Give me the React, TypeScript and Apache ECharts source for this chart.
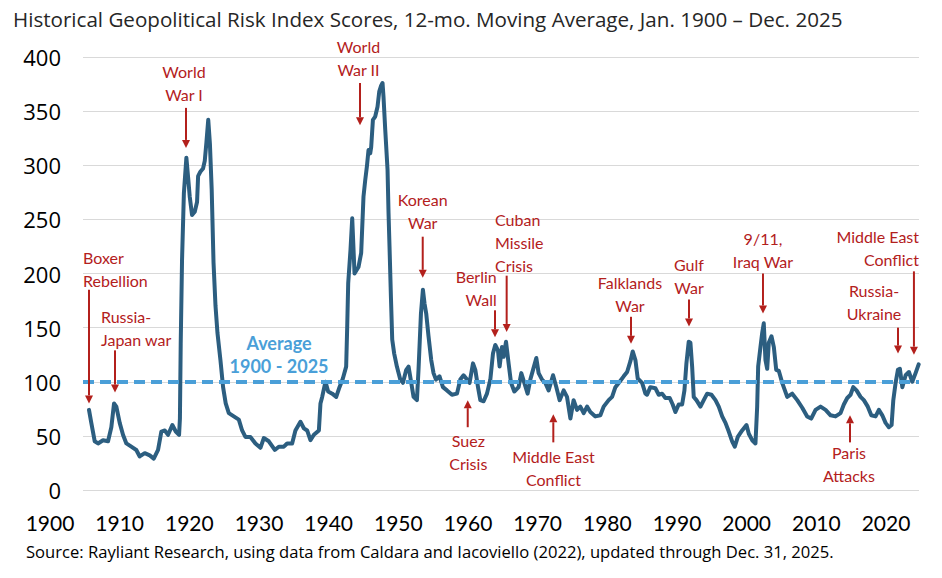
import React, { useEffect, useRef } from "react";
import * as echarts from "echarts";

const titleText =
  "Historical Geopolitical Risk Index Scores, 12-mo. Moving Average, Jan. 1900 \u2013 Dec. 2025";
const sourceText =
  "Source: Rayliant Research, using data from Caldara and Iacoviello (2022), updated through Dec. 31, 2025.";

const xTickLabels = ["1900", "1910", "1920", "1930", "1940", "1950", "1960", "1970", "1980", "1990", "2000", "2010", "2020"];
const yTicks = { min: 0, max: 400, interval: 50 };

const AVERAGE = 100;
const averageLabel = ["Average", "1900 - 2025"];
const averageLabelAt = [1928.84, 125.4];

const years = [
  1900.0, 1900.35, 1900.87, 1901.37, 1902.13, 1902.89, 1903.39, 1903.8, 1904.15, 1904.66,
  1905.16, 1905.67, 1906.42, 1907.18, 1907.7, 1908.46, 1909.22, 1909.83, 1910.48, 1910.98,
  1911.5, 1912.0, 1912.65, 1913.17, 1913.67, 1913.8, 1913.92, 1914.12, 1914.4, 1914.78,
  1915.04, 1915.29, 1915.64, 1916.05, 1916.4, 1916.56, 1916.9, 1917.31, 1917.57, 1917.82,
  1918.1, 1918.35, 1918.62, 1918.9, 1919.2, 1919.5, 1919.95, 1920.35, 1920.75, 1921.22,
  1921.98, 1922.74, 1923.24, 1923.74, 1924.5, 1925.26, 1926.02, 1926.53, 1927.29, 1928.2,
  1928.81, 1929.57, 1930.07, 1930.83, 1931.33, 1932.09, 1932.61, 1933.11, 1933.61, 1934.13,
  1934.89, 1935.13, 1935.39, 1935.89, 1936.3, 1936.91, 1937.52, 1938.02, 1938.53, 1939.03,
  1939.19, 1939.34, 1939.69, 1939.95, 1940.3, 1940.9, 1941.31, 1941.66, 1941.92, 1942.18,
  1942.42, 1942.68, 1942.83, 1943.09, 1943.44, 1943.79, 1944.05, 1944.3, 1944.55, 1944.7,
  1944.96, 1945.31, 1945.46, 1945.61, 1945.82, 1946.02, 1946.32, 1946.73, 1947.24, 1947.65,
  1948.15, 1948.5, 1948.91, 1949.26, 1949.77, 1950.01, 1950.38, 1950.68, 1950.93, 1951.18,
  1951.53, 1951.94, 1952.29, 1952.66, 1953.2, 1953.72, 1954.33, 1955.09, 1955.85, 1956.35,
  1956.85, 1957.37, 1957.76, 1958.28, 1958.63, 1959.04, 1959.39, 1959.89, 1960.4, 1960.91,
  1961.31, 1961.66, 1962.07, 1962.32, 1962.68, 1962.92, 1963.29, 1963.68, 1964.05, 1964.55,
  1965.2, 1965.61, 1966.07, 1966.57, 1966.98, 1967.39, 1967.89, 1968.24, 1968.76, 1969.26,
  1969.76, 1970.43, 1970.93, 1971.43, 1972.04, 1972.55, 1973.06, 1973.55, 1974.07, 1974.57,
  1975.08, 1975.59, 1976.09, 1976.85, 1977.61, 1978.11, 1978.87, 1979.39, 1979.89, 1980.54,
  1981.15, 1981.67, 1982.17, 1982.52, 1982.93, 1983.28, 1983.95, 1984.45, 1984.7, 1985.2,
  1985.96, 1986.47, 1986.98, 1987.48, 1988.14, 1988.59, 1989.0, 1989.5, 1990.02, 1990.37,
  1990.67, 1991.02, 1991.28, 1991.54, 1991.78, 1992.19, 1992.8, 1993.3, 1993.82, 1994.47,
  1995.08, 1995.58, 1996.1, 1996.6, 1997.1, 1997.61, 1998.01, 1998.47, 1999.13, 1999.79,
  2000.14, 2000.65, 2001.15, 2001.41, 2001.56, 2001.91, 2002.17, 2002.41, 2002.67, 2002.93,
  2003.17, 2003.58, 2003.94, 2004.3, 2004.7, 2005.21, 2005.97, 2006.73, 2007.49, 2008.25,
  2009.0, 2009.61, 2010.27, 2011.03, 2011.79, 2012.55, 2013.3, 2014.06, 2014.56, 2015.08,
  2015.58, 2015.99, 2016.49, 2017.1, 2017.6, 2018.2, 2018.73, 2019.38, 2019.88, 2020.4,
  2020.9, 2021.4, 2021.81, 2022.07, 2022.42, 2022.77, 2023.07, 2023.44, 2023.94, 2024.44,
  2024.95, 2025.45, 2025.92,
];

const gprValues = [
  74, 62, 45, 43, 46, 45, 58, 80, 77, 62,
  51, 43, 40, 37, 31, 34, 32, 29, 37, 54,
  55, 51, 60, 54, 51, 66, 135, 212, 274, 307,
  289, 271, 254, 257, 266, 290, 294, 297, 304, 321,
  342, 320, 278, 210, 170, 145, 120, 95, 80, 71,
  68, 65, 55, 49, 49, 43, 39, 48, 45, 37,
  40, 40, 43, 43, 55, 63, 57, 55, 46, 51,
  55, 80, 86, 100, 91, 89, 86, 95, 103, 114,
  151, 191, 222, 251, 200, 206, 219, 271, 286, 299,
  314, 311, 317, 342, 345, 354, 368, 373, 376, 363,
  333, 296, 256, 225, 179, 139, 126, 114, 102, 99,
  111, 114, 99, 86, 83, 111, 163, 185, 172, 163,
  142, 120, 108, 102, 105, 95, 92, 88, 89, 102,
  106, 102, 99, 117, 111, 95, 83, 82, 89, 102,
  126, 134, 129, 114, 132, 123, 137, 117, 99, 91,
  95, 108, 99, 89, 102, 111, 122, 108, 102, 99,
  92, 106, 95, 83, 92, 86, 66, 83, 74, 77,
  71, 77, 72, 68, 69, 77, 83, 86, 95, 100,
  105, 109, 119, 128, 120, 103, 99, 89, 88, 95,
  94, 88, 89, 85, 85, 79, 72, 79, 79, 92,
  117, 137, 136, 114, 86, 83, 77, 83, 89, 88,
  83, 77, 68, 62, 54, 45, 40, 49, 55, 60,
  52, 46, 43, 77, 114, 132, 145, 154, 120, 112,
  136, 142, 132, 111, 110, 99, 86, 89, 83, 76,
  68, 66, 74, 77, 74, 69, 68, 71, 79, 85,
  88, 95, 92, 86, 83, 77, 69, 68, 74, 69,
  62, 58, 60, 83, 99, 111, 112, 95, 106, 109,
  100, 108, 116,
];

// Annotations: arrow at year `x` from value `from` to value `to`; text block centred at (tx, ty)
const annotationLabels = [
  ["Boxer", "Rebellion"],
  ["Russia-", "Japan war"],
  ["World", "War I"],
  ["World", "War II"],
  ["Korean", "War"],
  ["Cuban", "Missile", "Crisis"],
  ["Berlin", "Wall"],
  ["Suez", "Crisis"],
  ["Middle East", "Conflict"],
  ["Falklands", "War"],
  ["Gulf", "War"],
  ["9/11,", "Iraq War"],
  ["Middle East", "Conflict"],
  ["Russia-", "Ukraine"],
  ["Paris", "Attacks"],
];
const annotationArrowYear = [1900.0, 1903.95, 1914.72, 1941.13, 1950.65, 1963.39, 1961.62, 1957.48, 1970.47, 1982.26, 1991.06, 2002.29, 2025.2, 2022.78, 2015.5];
const annotationArrowFrom = [185, 129, 353, 376, 234, 198, 166, 58, 44, 160, 176, 200, 202, 150, 44];
const annotationArrowTo = [80, 90, 316, 337, 196, 146, 141, 83, 70, 135, 151, 163, 125, 126, 69];
const annotationTextYear = [1899.09, 1901.82, 1914.42, 1940.9, 1950.65, 1961.62, 1961.88, 1957.57, 1970.5, 1982.1, 1991.06, 2002.29, 2025.97, 2019.14, 2015.34];
const annotationTextValue = [204, 150, 376, 399, 258, 229, 187, 35, 20, 181, 198, 222, 224, 174, 24];
const annotationAlign = ["left", "left", "center", "center", "center", "left", "right", "center", "center", "center", "center", "center", "right", "center", "center"];

const X_MIN = 1899.09;
const X_MAX = 2025.97;

const LINE_COLOR = "#2C5E80";
const AVG_COLOR = "#4A9FD8";
const RED = "#B3201C";
const FONT = "Lato, 'Noto Sans', sans-serif";
const WIDE = "'Open Sans', Lato, sans-serif";

export default function App() {
  const ref = useRef<HTMLDivElement>(null);

  useEffect(() => {
    if (!ref.current) return;
    const chart = echarts.init(ref.current, undefined, { renderer: "svg" });
    const seriesData = years.map((y, i) => [y, gprValues[i]]);

    chart.setOption({
      animation: false,
      backgroundColor: "#ffffff",
      title: [
        {
          text: titleText,
          left: 8,
          top: 3,
          textStyle: { fontFamily: WIDE, fontSize: 20.6, fontWeight: "normal", color: "#262626" },
        },
        {
          text: sourceText,
          left: 21,
          top: 538,
          textStyle: { fontFamily: WIDE, fontSize: 16.6, fontWeight: "normal", color: "#000000" },
        },
      ],
      grid: [
        { left: 83, right: 23, top: 57, bottom: 88 },
        { left: 50, right: 56, top: 57, bottom: 88 },
      ],
      xAxis: [
        {
          type: "value",
          gridIndex: 0,
          min: X_MIN,
          max: X_MAX,
          axisLine: { show: false },
          axisTick: { show: false },
          axisLabel: { show: false },
          splitLine: { show: false },
        },
        {
          type: "category",
          gridIndex: 1,
          data: xTickLabels,
          boundaryGap: false,
          axisLine: { show: false },
          axisTick: { show: false },
          splitLine: { show: false },
          axisLabel: { fontFamily: FONT, fontSize: 21, color: "#000000", margin: 22 },
        },
      ],
      yAxis: [
        {
          type: "value",
          gridIndex: 0,
          min: yTicks.min,
          max: yTicks.max,
          interval: yTicks.interval,
          axisLine: { show: false },
          axisTick: { show: false },
          axisLabel: { fontFamily: WIDE, fontSize: 22, color: "#000000", margin: 22 },
          splitLine: { lineStyle: { color: "#D9D9D9", width: 1 } },
        },
        { type: "value", gridIndex: 1, min: 0, max: 1, show: false },
      ],
      series: [
        {
          type: "line",
          xAxisIndex: 0,
          yAxisIndex: 0,
          data: [],
          z: 1,
          markLine: {
            silent: true,
            symbol: ["none", "none"],
            label: { show: false },
            lineStyle: { color: AVG_COLOR, width: 4, type: [11, 6] },
            data: [{ yAxis: AVERAGE }],
          },
        },
        {
          type: "line",
          xAxisIndex: 0,
          yAxisIndex: 0,
          data: seriesData,
          showSymbol: false,
          symbol: "none",
          z: 3,
          lineStyle: { color: LINE_COLOR, width: 4, join: "round", cap: "round" },
        },
      ],
    });

    const toPx = (x: number, y: number) =>
      chart.convertToPixel({ xAxisIndex: 0, yAxisIndex: 0 }, [x, y]) as number[];

    const elements: any[] = [];
    const avgP = toPx(averageLabelAt[0], averageLabelAt[1]);
    elements.push({
      type: "text",
      x: avgP[0],
      y: avgP[1],
      z: 10,
      style: {
        text: averageLabel.join("\n"),
        align: "center",
        verticalAlign: "middle",
        fill: AVG_COLOR,
        fontFamily: FONT,
        fontWeight: "bold",
        fontSize: 18,
        lineHeight: 23,
      },
    });

    annotationLabels.forEach((lines, i) => {
      const tail = toPx(annotationArrowYear[i], annotationArrowFrom[i]);
      const tip = toPx(annotationArrowYear[i], annotationArrowTo[i]);
      const dir = tip[1] > tail[1] ? 1 : -1;
      const head = 8;
      const half = 4;
      elements.push({
        type: "line",
        z: 10,
        shape: { x1: tail[0], y1: tail[1], x2: tip[0], y2: tip[1] - dir * head },
        style: { stroke: RED, lineWidth: 2 },
      });
      elements.push({
        type: "polygon",
        z: 10,
        shape: {
          points: [
            [tip[0] - half, tip[1] - dir * head],
            [tip[0] + half, tip[1] - dir * head],
            [tip[0], tip[1]],
          ],
        },
        style: { fill: RED },
      });
      const tp = toPx(annotationTextYear[i], annotationTextValue[i]);
      elements.push({
        type: "text",
        x: tp[0],
        y: tp[1],
        z: 10,
        style: {
          text: lines.join("\n"),
          align: annotationAlign[i],
          verticalAlign: "middle",
          fill: RED,
          fontFamily: FONT,
          fontSize: 16,
          lineHeight: 23,
        },
      });
    });

    chart.setOption({ graphic: elements });

    return () => chart.dispose();
  }, []);

  return (
    <div
      ref={ref}
      style={{ position: "fixed", left: 0, top: 0, width: 942, height: 578, background: "#fff" }}
    />
  );
}
